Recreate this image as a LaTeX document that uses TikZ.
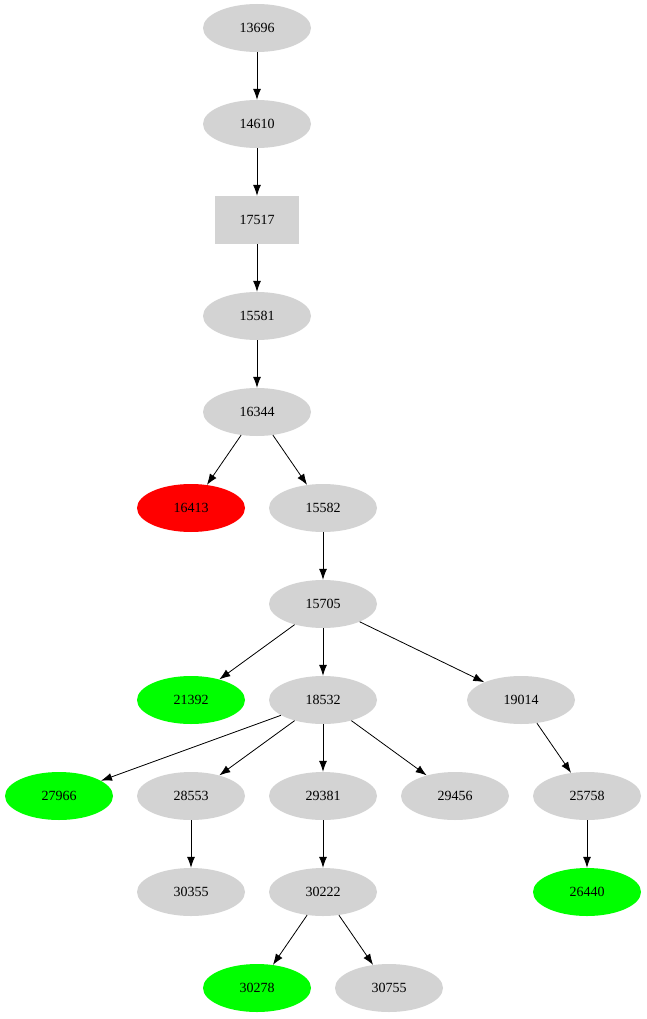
\documentclass[tikz,border=0pt]{standalone}
\usepackage{fontspec}
\setmainfont{Liberation Serif}
\usetikzlibrary{shapes.geometric,arrows.meta}
\definecolor{lg}{HTML}{D3D3D3}
\begin{document}
\begin{tikzpicture}[x=1pt,y=-1pt,
 el/.style={ellipse,fill=lg,minimum width=108pt,minimum height=48pt,inner sep=0pt,font=\fontsize{14}{16}\selectfont},
 bx/.style={rectangle,fill=lg,minimum width=84pt,minimum height=48pt,inner sep=0pt,font=\fontsize{14}{16}\selectfont},
 gr/.style={el,fill={rgb,255:red,0;green,255;blue,0}},
 rd/.style={el,fill={rgb,255:red,255;green,0;blue,0}},
 ar/.style={-{Latex[length=11pt,width=8pt]},line width=0.8pt}]
\useasboundingbox (0,0) rectangle (646,1019);
\node[el] (a) at (257,28) {13696};
\node[el] (b) at (257,124) {14610};
\node[bx] (c) at (257,220) {17517};
\node[el] (d) at (257,316) {15581};
\node[el] (e) at (257,412) {16344};
\node[rd] (f) at (191,508) {16413};
\node[el] (g) at (323,508) {15582};
\node[el] (h) at (323,604) {15705};
\node[gr] (i) at (191,700) {21392};
\node[el] (j) at (323,700) {18532};
\node[el] (k) at (521,700) {19014};
\node[gr] (l) at (59,796) {27966};
\node[el] (m) at (191,796) {28553};
\node[el] (n) at (323,796) {29381};
\node[el] (o) at (455,796) {29456};
\node[el] (p) at (587,796) {25758};
\node[el] (q) at (191,892) {30355};
\node[el] (r) at (323,892) {30222};
\node[gr] (s) at (587,892) {26440};
\node[gr] (t) at (257,988) {30278};
\node[el] (u) at (389,988) {30755};
\foreach \x/\y in {a/b,b/c,c/d,d/e,e/f,e/g,g/h,h/i,h/j,h/k,j/l,j/m,j/n,j/o,k/p,m/q,n/r,p/s,r/t,r/u}
 \draw[ar] (\x) -- (\y);
\end{tikzpicture}
\end{document}
